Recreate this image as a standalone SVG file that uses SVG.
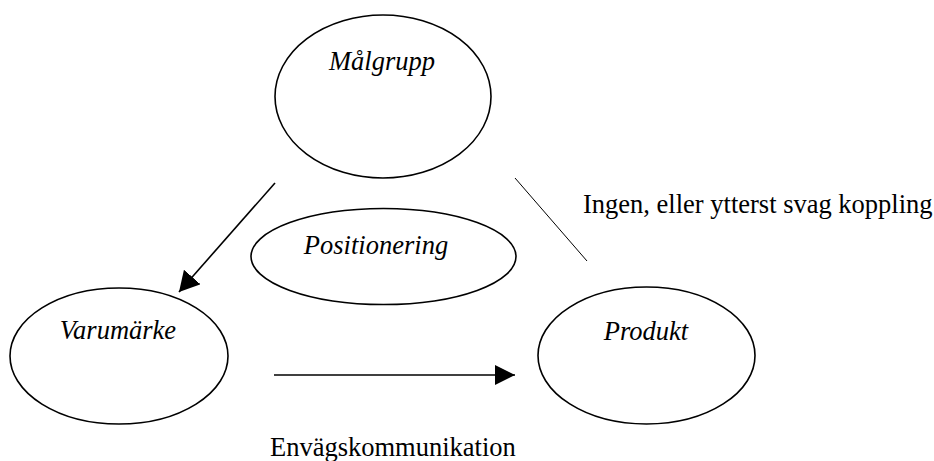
<svg xmlns="http://www.w3.org/2000/svg" width="934" height="461" viewBox="0 0 934 461">
  <defs>
    <style>
      .node ellipse { fill: #ffffff; stroke: #000000; stroke-width: 1.6; }
      .label { font-family: "Liberation Serif", "Times New Roman", serif; font-size: 26.5px; fill: #000000; }
      .node .label { font-style: italic; text-anchor: middle; }
      .edge { stroke: #000000; stroke-width: 1.6; fill: none; }
      .thin { stroke: #000000; stroke-width: 1; fill: none; }
    </style>
    <marker id="arrowhead" viewBox="0 0 20 22" refX="20" refY="11" markerWidth="20" markerHeight="22" markerUnits="userSpaceOnUse" orient="auto">
      <path d="M0,0 L20,11 L0,22 Z" fill="#000000"/>
    </marker>
    <marker id="arrowhead-flat" viewBox="0 0 20 20" refX="20" refY="10" markerWidth="20" markerHeight="20" markerUnits="userSpaceOnUse" orient="auto">
      <path d="M0,0 L20,10 L0,20 Z" fill="#000000"/>
    </marker>
  </defs>

  <rect width="934" height="461" fill="#ffffff"/>

  <g id="malgrupp" class="node">
    <ellipse cx="383" cy="96.5" rx="108" ry="81.5"/>
    <text class="label" x="382" y="70">Målgrupp</text>
  </g>

  <g id="positionering" class="node">
    <ellipse cx="383.5" cy="256.5" rx="132.5" ry="48"/>
    <text class="label" x="376" y="254">Positionering</text>
  </g>

  <g id="varumarke" class="node">
    <ellipse cx="119" cy="356" rx="109" ry="68"/>
    <text class="label" x="118" y="339">Varumärke</text>
  </g>

  <g id="produkt" class="node">
    <ellipse cx="646.5" cy="355.5" rx="108.5" ry="68.5"/>
    <text class="label" x="646" y="340">Produkt</text>
  </g>

  <g id="connectors">
    <line class="edge" x1="275" y1="183" x2="179" y2="292" marker-end="url(#arrowhead)"/>
    <line class="edge" x1="274" y1="375" x2="515" y2="375" marker-end="url(#arrowhead-flat)"/>
    <line class="thin" x1="515" y1="178" x2="587" y2="261"/>
  </g>

  <g id="annotations">
    <text class="label" x="583" y="213">Ingen, eller ytterst svag koppling</text>
    <text class="label" x="270" y="456">Envägskommunikation</text>
  </g>
</svg>
